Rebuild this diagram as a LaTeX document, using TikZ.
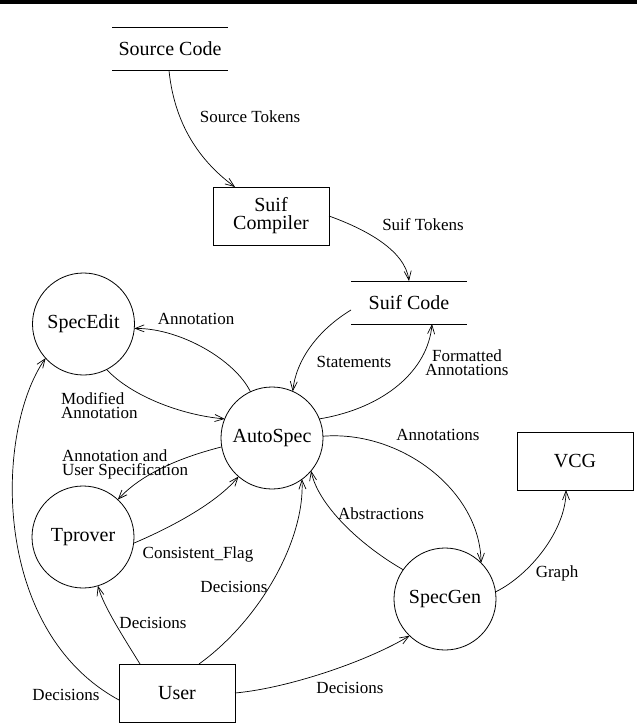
\documentclass[tikz,border=0pt]{standalone}
\usepackage{fontspec}
\setmainfont{Liberation Serif}
\usetikzlibrary{arrows.meta}

\begin{document}
\begin{tikzpicture}[x=1pt, y=-1pt,
  every node/.style={inner sep=0pt, outer sep=0pt},
  nodetext/.style={font=\fontsize{20}{18}\selectfont},
  lbl/.style={font=\fontsize{17}{14}\selectfont, align=center},
  proc/.style={nodetext, draw, circle, minimum size=102pt, line width=0.8pt},
  ext/.style={nodetext, draw, rectangle, minimum width=116pt, minimum height=58pt, align=center, line width=0.8pt},
  store/.style={nodetext, minimum width=116pt, minimum height=43pt},
  storeline/.style={line width=1pt},
  flow/.style={-{Straight Barb[length=9pt,width=7pt]}, line width=0.7pt},
]
\useasboundingbox (0,0) rectangle (637,727);
\fill (0,0) rectangle (637,4.5);

% data stores
\node[store] (sc) at (170,49) {Source Code};
\draw[storeline] (sc.north west) -- (sc.north east) (sc.south west) -- (sc.south east);
\node[store] (scode) at (409,302.5) {Suif Code};
\draw[storeline] (scode.north west) -- (scode.north east) (scode.south west) -- (scode.south east);

% external entities
\node[ext] (comp) at (271,216) {Suif\\Compiler};
\node[ext] (vcg) at (575,461) {VCG};
\node[ext] (user) at (177,693) {User};

% processes
\node[proc] (se) at (83.5,324) {SpecEdit};
\node[proc] (as) at (272,438) {AutoSpec};
\node[proc] (tp) at (83,537) {Tprover};
\node[proc] (sg) at (445,599) {SpecGen};

% data flows
\draw[flow] ([xshift=-1pt]sc.south) .. controls (175,130) and (205,165) .. ([xshift=-36pt]comp.north);
\draw[flow] (comp.east) .. controls (365,229) and (405,250) .. (scode.north);
\draw[flow] ([yshift=-7.5pt]scode.west) .. controls (318,330) and (296,360) .. (as.66);
\draw[flow] (as.22) .. controls (385,408) and (428,370) .. ([xshift=23pt]scode.south);
\draw[flow] (as.115) .. controls (235,360) and (180,328) .. (se.-5);
\draw[flow] (se.-63) .. controls (130,395) and (180,415) .. (as.158);
\draw[flow] (as.190) .. controls (190,455) and (145,470) .. (tp.47);
\draw[flow] (tp.-7) .. controls (165,530) and (215,505) .. (as.229);
\draw[flow] ([xshift=22pt]user.north) .. controls (260,620) and (305,540) .. (as.-54);
\draw[flow] (sg.145) .. controls (360,545) and (318,505) .. (as.-40);
\draw[flow] (as.2) .. controls (400,430) and (480,490) .. (sg.45);
\draw[flow] (sg.8) .. controls (530,575) and (566,530) .. ([xshift=-9pt]vcg.south);
\draw[flow] (user.east) .. controls (290,688) and (370,660) .. (sg.226);
\draw[flow] ([xshift=-37pt]user.north) .. controls (122,635) and (103,605) .. (tp.-73);
\draw[flow] ([yshift=-7pt]user.west) .. controls (-10,630) and (-5,430) .. (se.222);

% flow labels
\node[lbl] (lsrc) at (250,117) {Source Tokens};
\node[lbl] (lsuif) at (423,225) {Suif Tokens};
\node[lbl] (lann) at (196,319) {Annotation};
\node[lbl] (lstmt) at (354,362) {Statements};
\node[lbl] (lfmt) at (467,362.5) {Formatted\\Annotations};
\node[lbl, align=left, anchor=west] (lmod) at (61,405.5) {Modified\\Annotation};
\node[lbl] (lanns) at (438,435) {Annotations};
\node[lbl, align=left, anchor=west] (luser) at (62,464) {Annotation and\\User Specification};
\node[lbl] (lcons) at (198,554) {Consistent\_Flag};
\node[lbl] (labs) at (381,514) {Abstractions};
\node[lbl] (lgraph) at (557,573) {Graph};
\node[lbl] (ldec1) at (234,587) {Decisions};
\node[lbl] (ldec2) at (153,623) {Decisions};
\node[lbl] (ldec3) at (350,688) {Decisions};
\node[lbl] (ldec4) at (66,695) {Decisions};
\end{tikzpicture}
\end{document}
